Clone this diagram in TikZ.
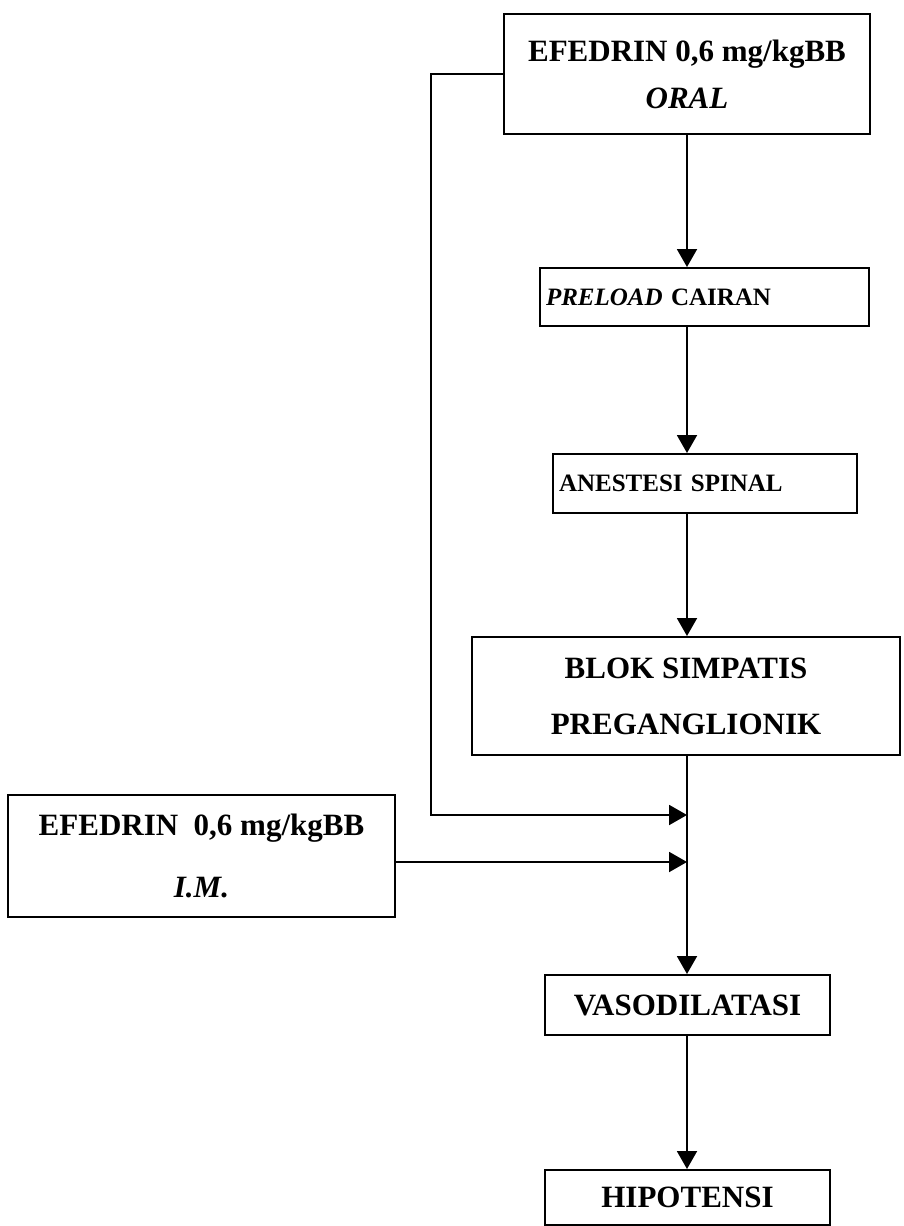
\documentclass[tikz,border=0pt]{standalone}
\usepackage{fontspec}
\setmainfont{Liberation Serif}
\usetikzlibrary{arrows.meta}

\tikzset{
  box/.style={draw, line width=1pt, inner sep=0pt, font=\bfseries},
  arr/.style={line width=1pt, -{Triangle[length=9pt,width=10pt]}},
  bigtext/.style={font=\bfseries\fontsize{15.5}{23.5}\selectfont},
  smalltext/.style={font=\bfseries\fontsize{12.5}{15}\selectfont},
}

\begin{document}
\begin{tikzpicture}[x=0.5pt,y=-0.5pt]
    \useasboundingbox (0,0) rectangle (904,1226);
    \coordinate (axis) at (687,0);
    \coordinate (j1) at (687,815);
    \coordinate (j2) at (687,862);

    \node[box, bigtext, align=center, minimum width=183pt, minimum height=60pt] (oral) at (687,74) {EFEDRIN 0,6 mg/kgBB\\\textit{ORAL}};
    \node[box, smalltext, align=left, inner xsep=3pt, text width=158.5pt, minimum height=29pt] (preload) at (704.5,297) {\textit{PRELOAD} CAIRAN};
    \node[box, smalltext, align=left, inner xsep=3pt, text width=146pt, minimum height=29.5pt] (anest) at (705,483.5) {ANESTESI SPINAL};
    \node[box, bigtext, align=center, minimum width=214pt, minimum height=59pt, font=\bfseries\fontsize{15.5}{28}\selectfont] (blok) at (686,696) {BLOK SIMPATIS\\PREGANGLIONIK};
    \node[box, bigtext, align=center, minimum width=193.5pt, minimum height=61pt, font=\bfseries\fontsize{15.5}{31}\selectfont] (im) at (201.5,856) {EFEDRIN\ \ 0,6 mg/kgBB\\\textit{I.M.}};
    \node[box, bigtext, minimum width=142.5pt, minimum height=30pt] (vaso) at (687.5,1005) {VASODILATASI};
    \node[box, bigtext, minimum width=142.5pt, minimum height=27.5pt] (hipo) at (687.5,1197.5) {HIPOTENSI};

    % main chain
    \draw[arr] (oral.south -| axis) -- (preload.north -| axis);
    \draw[arr] (preload.south -| axis) -- (anest.north -| axis);
    \draw[arr] (anest.south -| axis) -- (blok.north -| axis);
    \draw[arr] (blok.south -| axis) -- (vaso.north -| axis);
    \draw[arr] (vaso.south -| axis) -- (hipo.north -| axis);

    % efedrin joins
    \draw[arr] (oral.west) -| (431,815) -- (j1);
    \draw[arr] (im.east |- j2) -- (j2);
\end{tikzpicture}
\end{document}
